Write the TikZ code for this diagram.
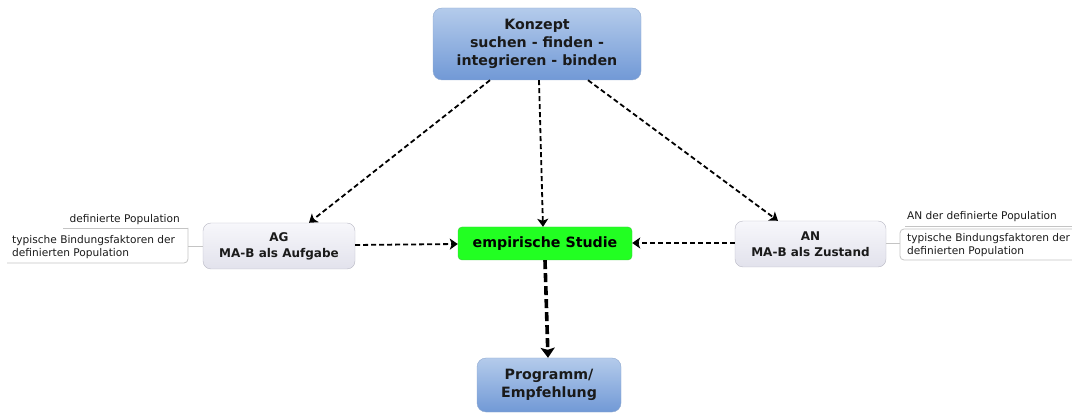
\documentclass[tikz,border=0pt]{standalone}
\usepackage{fontspec}
\setmainfont{DejaVu Sans}
\usetikzlibrary{arrows.meta}
\definecolor{bluetop}{HTML}{B4CBEB}
\definecolor{bluebot}{HTML}{7199D6}
\definecolor{blueedge}{HTML}{8FA9CF}
\definecolor{greytop}{HTML}{F7F7FB}
\definecolor{greybot}{HTML}{E2E2EC}
\definecolor{greyedge}{HTML}{B8B8C4}
\definecolor{greenfill}{HTML}{22FF22}
\definecolor{greenedge}{HTML}{3CC83C}
\definecolor{leafline}{HTML}{C4C4C4}
\definecolor{txt}{HTML}{1A1A1A}
\tikzset{
  x=1pt, y=-1pt,
  bluebox/.style={draw=blueedge, rounded corners=9pt, top color=bluetop, bottom color=bluebot,
    align=center, font=\bfseries\fontsize{14.2}{18}\selectfont, text=txt, inner sep=0pt},
  greybox/.style={draw=greyedge, rounded corners=8pt, top color=greytop, bottom color=greybot,
    align=center, font=\bfseries\fontsize{12}{16}\selectfont, text=txt, inner sep=0pt},
  studybox/.style={draw=greenedge, rounded corners=4pt, fill=greenfill,
    align=center, font=\bfseries\fontsize{14.2}{16}\selectfont, text=black, inner sep=0pt},
  leaf/.style={font=\fontsize{10.6}{13}\selectfont, text=txt, align=left, anchor=west, inner sep=0pt},
  leafline/.style={draw=leafline, line width=0.8pt},
  flow/.style={draw=black, line width=1.8pt, dash pattern=on 5pt off 3pt,
    -{Stealth[length=8pt,width=11pt,inset=2pt]}},
  bigflow/.style={draw=black, line width=3.6pt, dash pattern=on 9pt off 4pt,
    -{Stealth[length=10pt,width=14pt,inset=2pt]}},
}
\begin{document}
\begin{tikzpicture}
\useasboundingbox (0,0) rectangle (1072,414);

% main nodes
\node[bluebox, minimum width=208pt, minimum height=72pt] (konzept) at (537,44)
  {Konzept\\suchen - finden -\\integrieren - binden};
\node[greybox, minimum width=152pt, minimum height=46pt] (ag) at (279,246)
  {AG\\MA-B als Aufgabe};
\node[studybox, minimum width=174pt, minimum height=33pt] (studie) at (545,243.5)
  {empirische Studie};
\node[greybox, minimum width=151pt, minimum height=46pt] (an) at (810.5,244)
  {AN\\MA-B als Zustand};
\node[bluebox, minimum width=144pt, minimum height=54pt] (prog) at (549,385)
  {Programm/\\Empfehlung};

% left side notes
\node[leaf, anchor=east] (agl1) at (180,220) {definierte Population};
\node[leaf] (agl2) at (12,247) {typische Bindungsfaktoren der\\definierten Population};
\coordinate (agA) at (63,228);
\coordinate (agB) at (188,228);
\coordinate (agC) at (188,263);
\coordinate (agD) at (7,263);
\coordinate (agJ) at (188,246);
\draw[leafline] (agA) -- (agB);
\draw[leafline, rounded corners=4pt] (agB) -- (agC) -- (agD);
\draw[leafline] (agJ) -- (ag.west |- agJ);

% right side notes
\node[leaf] (anl1) at (907,217) {AN der definierte Population};
\node[leaf] (anl2) at (907,245) {typische Bindungsfaktoren der\\definierten Population};
\coordinate (anA) at (905,226);
\coordinate (anB) at (1072,226);
\coordinate (anC) at (1072,229);
\coordinate (anD) at (900,229);
\coordinate (anE) at (900,260);
\coordinate (anF) at (1072,260);
\coordinate (anJ) at (900,243);
\draw[leafline] (anA) -- (anB);
\draw[leafline, rounded corners=4pt] (anC) -- (anD) -- (anE) -- (anF);
\draw[leafline] (an.east |- anJ) -- (anJ);

% connectors
\draw[flow] (konzept.south -| 490,0) -- (ag.north -| 309,0);
\draw[flow] (konzept.south -| 539,0) -- (studie.north -| 543,0);
\draw[flow] (konzept.south -| 588,0) -- (an.north -| 778,0);
\draw[flow] (ag.east |- 0,245) -- (studie.west |- 0,244);
\draw[flow] (an.west |- 0,243) -- (studie.east |- 0,243);
\draw[bigflow] (studie.south -| 545,0) -- (prog.north -| 548,0);
\end{tikzpicture}
\end{document}
